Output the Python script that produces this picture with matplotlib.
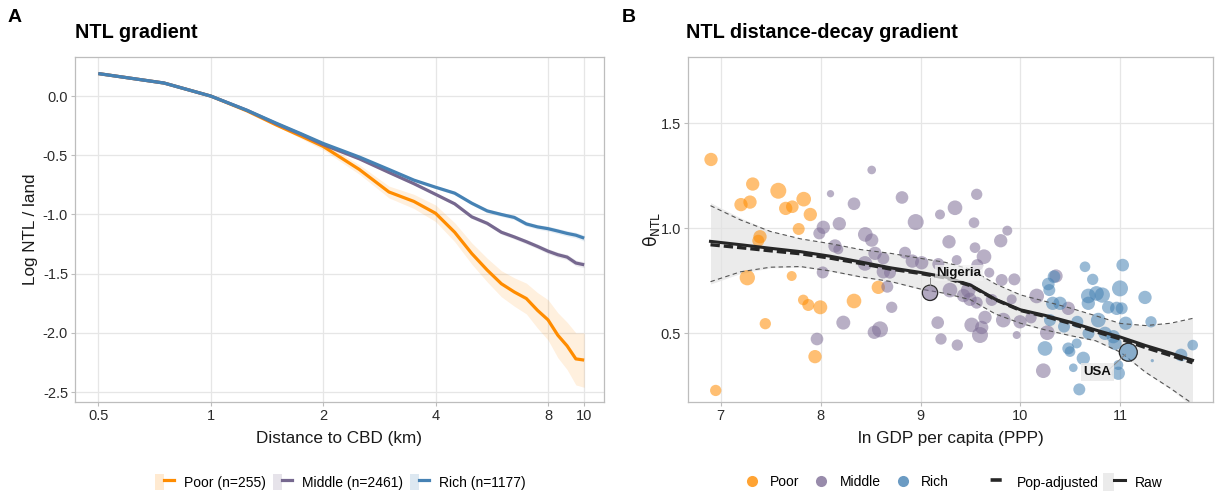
import matplotlib
matplotlib.use('Agg')
import matplotlib.pyplot as plt
from matplotlib.lines import Line2D
from matplotlib.patches import Patch
from matplotlib.legend_handler import HandlerTuple
import numpy as np

plt.rcParams['font.family'] = ['Liberation Sans', 'DejaVu Sans']
plt.rcParams['mathtext.fontset'] = 'dejavusans'
plt.rcParams['axes.unicode_minus'] = False

# -------- panel A: NTL gradient by income group --------
dist_km = [0.5, 0.75, 1.0, 1.25, 1.5, 1.75, 2.0, 2.5, 3.0, 3.5, 4.0, 4.5,
           5.0, 5.5, 6.0, 6.5, 7.0, 7.5, 8.0, 8.5, 9.0, 9.5, 10.0]
poor_ntl = [0.19, 0.11, 0.0, -0.125, -0.245, -0.34, -0.425, -0.62, -0.81,
            -0.89, -0.99, -1.15, -1.33, -1.47, -1.585, -1.655, -1.71, -1.81,
            -1.89, -2.02, -2.11, -2.22, -2.23]
poor_se = [0.0, 0.0, 0.0, 0.005, 0.01, 0.02, 0.03, 0.04, 0.05, 0.06, 0.07,
           0.08, 0.09, 0.10, 0.11, 0.12, 0.13, 0.15, 0.17, 0.19, 0.2, 0.22, 0.23]
middle_ntl = [0.19, 0.11, 0.0, -0.12, -0.235, -0.325, -0.41, -0.53, -0.645,
              -0.74, -0.83, -0.91, -1.02, -1.075, -1.15, -1.19, -1.23, -1.27,
              -1.31, -1.34, -1.36, -1.41, -1.425]
middle_se = [0.0, 0.0, 0.0, 0.0, 0.005, 0.005, 0.01, 0.01, 0.01, 0.012, 0.012,
             0.014, 0.015, 0.016, 0.017, 0.018, 0.019, 0.02, 0.021, 0.022,
             0.023, 0.024, 0.025]
rich_ntl = [0.19, 0.11, 0.0, -0.12, -0.23, -0.32, -0.40, -0.515, -0.62,
            -0.71, -0.77, -0.82, -0.905, -0.97, -1.0, -1.025, -1.08, -1.105,
            -1.12, -1.14, -1.16, -1.175, -1.20]
rich_se = [0.0, 0.0, 0.0, 0.0, 0.005, 0.005, 0.01, 0.01, 0.01, 0.012, 0.012,
           0.014, 0.015, 0.016, 0.017, 0.018, 0.019, 0.02, 0.021, 0.022,
           0.023, 0.024, 0.025]
group_labels = ['Poor (n=255)', 'Middle (n=2461)', 'Rich (n=1177)']

# -------- panel B: city-level decay gradients --------
poor_gdp = [6.905, 7.322, 7.205, 7.295, 7.578, 7.652, 7.718, 7.832, 7.898,
            7.782, 7.395, 7.378, 7.268, 7.712, 7.828, 7.878, 7.998, 7.448,
            7.945, 6.952, 8.578, 8.335]
poor_theta = [1.328, 1.211, 1.113, 1.125, 1.179, 1.095, 1.103, 1.139, 1.066,
              0.997, 0.960, 0.941, 0.765, 0.773, 0.659, 0.635, 0.624, 0.546,
              0.389, 0.228, 0.719, 0.654]
poor_pop = [10, 10, 10, 10, 14.4, 10, 9, 12.1, 10, 8.1, 10, 8.1, 13.2, 5.6,
            6.4, 8.1, 11, 7.2, 10, 7.2, 10, 12.1]

middle_gdp = [8.10, 8.028, 7.988, 8.022, 7.965, 8.145, 8.512, 8.335, 8.815,
              8.952, 9.195, 9.345, 8.188, 8.448, 8.512, 9.285, 8.178, 8.545,
              8.445, 8.628, 8.845, 8.918, 9.012, 8.695, 8.628, 8.668, 8.712,
              8.228, 8.595, 8.538, 9.178, 9.362, 9.295, 9.172, 9.205, 9.368,
              9.43, 9.562, 9.535, 9.868, 9.802, 9.545, 9.635, 9.568, 9.688,
              9.812, 9.938, 9.478, 9.495, 9.562, 9.712, 9.912, 9.828, 9.645,
              9.512, 9.595, 9.612, 9.962, 9.995, 10.105, 10.162, 10.268,
              10.228, 10.355, 10.478]
middle_theta = [1.165, 1.005, 0.976, 0.790, 0.473, 0.916, 1.278, 1.117, 1.147,
                1.030, 1.066, 1.098, 1.022, 0.971, 0.944, 0.936, 0.900, 0.881,
                0.833, 0.857, 0.884, 0.844, 0.836, 0.789, 0.793, 0.722, 0.624,
                0.551, 0.519, 0.505, 0.830, 0.849, 0.706, 0.551, 0.473, 0.444,
                0.680, 1.162, 1.027, 0.989, 0.941, 0.908, 0.865, 0.825, 0.789,
                0.754, 0.757, 0.706, 0.662, 0.646, 0.659, 0.662, 0.563, 0.576,
                0.540, 0.492, 0.528, 0.492, 0.555, 0.574, 0.678, 0.503, 0.322,
                0.773, 0.619]
middle_pop = [3.0, 10, 8.1, 8.1, 9, 10, 4.2, 9, 9, 14.4, 5.6, 12.1, 10, 12.1,
              10, 10, 5.6, 10, 12.1, 8.1, 8.1, 10, 10, 8.1, 10, 8.1, 7.2, 11,
              14.4, 10, 8.1, 5.6, 12.1, 9, 7.2, 7.2, 10, 7.2, 6.4, 5.6, 10,
              6.4, 12.1, 8.1, 5.6, 8.1, 8.1, 12.1, 10, 8.1, 8.1, 5.6, 12.1, 10,
              12.1, 14.4, 10, 3.6, 10, 7.2, 12.1, 12.1, 12.1, 10, 10]

rich_gdp = [10.278, 10.288, 10.335, 10.395, 10.322, 10.295, 10.245, 10.478,
            10.495, 10.562, 10.528, 10.628, 10.588, 10.645, 10.722, 10.678,
            10.678, 10.568, 10.435, 11.022, 10.818, 10.995, 10.878, 10.962,
            11.012, 11.245, 10.778, 10.845, 11.052, 11.305, 10.945, 10.928,
            10.978, 10.978, 11.605, 11.722, 11.318, 10.76, 10.68]
rich_theta = [0.735, 0.706, 0.770, 0.643, 0.643, 0.563, 0.428, 0.428, 0.413,
              0.452, 0.336, 0.381, 0.233, 0.817, 0.757, 0.678, 0.643, 0.555,
              0.532, 0.825, 0.682, 0.714, 0.624, 0.619, 0.619, 0.671, 0.563,
              0.500, 0.548, 0.555, 0.452, 0.484, 0.310, 0.349, 0.397, 0.444,
              0.370, 0.690, 0.500]
rich_pop = [9, 8.1, 9, 10, 10, 8.1, 12.1, 8.1, 6.4, 5.6, 4.2, 10, 8.1, 6.4,
            7.2, 12.1, 10, 8.1, 8.1, 9, 13.2, 14.4, 9, 10, 8.1, 10, 12.1, 10,
            10, 7.2, 10, 10, 10, 5.6, 9, 6.4, 0.6, 12.1, 8.1]

# highlighted cities: name, ln GDP, theta, pop
highlight = [('Nigeria', 9.095, 0.693, 13.2), ('USA', 11.078, 0.410, 18.2)]

fit_gdp = [6.9, 7.2, 7.5, 7.8, 8.1, 8.4, 8.7, 9.0, 9.25, 9.5, 9.75, 10.0,
           10.25, 10.5, 10.75, 11.0, 11.25, 11.5, 11.72]
raw_fit = [0.938, 0.922, 0.905, 0.889, 0.867, 0.840, 0.812, 0.790, 0.768,
           0.730, 0.662, 0.612, 0.585, 0.553, 0.516, 0.482, 0.442, 0.406, 0.372]
raw_lo = [0.735, 0.785, 0.812, 0.815, 0.795, 0.767, 0.745, 0.709, 0.688,
          0.658, 0.590, 0.546, 0.514, 0.487, 0.463, 0.408, 0.312, 0.235, 0.15]
raw_hi = [1.122, 1.050, 0.988, 0.952, 0.929, 0.901, 0.883, 0.859, 0.840,
          0.807, 0.737, 0.685, 0.654, 0.622, 0.586, 0.549, 0.539, 0.550, 0.571]
adj_fit = [0.922, 0.908, 0.893, 0.879, 0.858, 0.833, 0.806, 0.785, 0.764,
           0.727, 0.660, 0.609, 0.580, 0.547, 0.508, 0.473, 0.432, 0.395, 0.360]
adj_lo = [0.746, 0.793, 0.815, 0.818, 0.797, 0.769, 0.747, 0.711, 0.690,
          0.660, 0.592, 0.548, 0.516, 0.489, 0.465, 0.410, 0.315, 0.238, 0.165]
adj_hi = [1.108, 1.040, 0.985, 0.950, 0.927, 0.899, 0.881, 0.857, 0.838,
          0.805, 0.735, 0.683, 0.652, 0.620, 0.584, 0.547, 0.537, 0.548, 0.571]

line_colors = ['#ff8c00', '#76688f', '#4682b4']
dot_colors = ['#ff8c00', '#7e6e96', '#4682b4']
grid_c = '#e6e6e6'
frame_c = '#bdbdbd'
text_c = '#1a1a1a'

W, H = 1215, 495
fig = plt.figure(figsize=(W / 100, H / 100), dpi=100)


def px_axes(left, top, right, bottom):
    return fig.add_axes([left / W, 1 - bottom / H, (right - left) / W, (bottom - top) / H])


def style(ax):
    ax.set_axisbelow(True)
    ax.grid(True, color=grid_c, lw=0.9)
    for s in ax.spines.values():
        s.set_color(frame_c)
        s.set_linewidth(0.9)
    ax.tick_params(length=3, width=0.8, color=frame_c, labelsize=10.5,
                   labelcolor='#2b2b2b', pad=2)
    ax.minorticks_off()


# ---- A ----
axA = px_axes(75, 57, 604, 402)
x = np.array(dist_km)
for ntl, se, c in zip([poor_ntl, middle_ntl, rich_ntl], [poor_se, middle_se, rich_se], line_colors):
    ntl = np.array(ntl)
    se = np.array(se)
    axA.fill_between(x, ntl - se, ntl + se, color=c, alpha=0.13, lw=0, zorder=2)
for ntl, c in zip([poor_ntl, middle_ntl, rich_ntl], line_colors):
    axA.plot(x, ntl, color=c, lw=2.3, zorder=3, solid_capstyle='butt')
axA.set_xscale('log', base=2)
axA.set_xlim(0.433, 11.3)
axA.set_ylim(-2.584, 0.33)
xt = [0.5, 1, 2, 4, 8, 10]
axA.set_xticks(xt)
axA.set_xticklabels(['0.5', '1', '2', '4', '8', '10'])
axA.set_yticks([0.0, -0.5, -1.0, -1.5, -2.0, -2.5])
axA.set_yticklabels(['0.0', '-0.5', '-1.0', '-1.5', '-2.0', '-2.5'])
style(axA)
axA.set_xlabel('Distance to CBD (km)', fontsize=12.3, color=text_c)
axA.set_ylabel('Log NTL / land', fontsize=12.3, color=text_c)
axA.xaxis.set_label_coords(0.5, -0.085)
axA.yaxis.set_label_coords(-0.07, 0.5)

# ---- B ----
axB = px_axes(688, 57, 1213, 402)
axB.fill_between(fit_gdp, raw_lo, raw_hi, color='#e3e3e3', alpha=0.7, lw=0, zorder=1)
groups = [(poor_gdp, poor_theta, poor_pop), (middle_gdp, middle_theta, middle_pop),
          (rich_gdp, rich_theta, rich_pop)]
for (g, t, p), c in zip(groups, dot_colors):
    axB.scatter(g, t, s=np.array(p) * 9.2, color=c, alpha=0.55, lw=0, zorder=2)
for (name, g, t, p), c in zip(highlight, [dot_colors[1], dot_colors[2]]):
    axB.scatter([g], [t], s=p * 9.2, facecolor=c, alpha=0.6, lw=0, zorder=5)
    axB.scatter([g], [t], s=p * 9.2, facecolor='none', edgecolor='#2b2b2b', lw=0.9, zorder=5)
axB.plot(fit_gdp, adj_lo, color='#555555', lw=0.8, ls=(0, (4, 3)), zorder=3)
axB.plot(fit_gdp, adj_hi, color='#555555', lw=0.8, ls=(0, (4, 3)), zorder=3)
axB.plot(fit_gdp, adj_fit, color='#262626', lw=2.4, ls=(0, (2.8, 1.2)), zorder=4)
axB.plot(fit_gdp, raw_fit, color='#262626', lw=2.2, zorder=4)

# city labels
axB.plot([9.095, 9.095], [0.73, 0.765], color='#888888', lw=0.7, zorder=5)
axB.text(9.385, 0.787, 'Nigeria', fontsize=9.5, fontweight='bold', color='#111111',
         ha='center', va='center', zorder=6,
         bbox=dict(boxstyle='square,pad=0.15', fc='#f2f2f2', ec='none', alpha=0.7))
axB.plot([10.89, 11.05], [0.33, 0.40], color='#888888', lw=0.7, zorder=5)
axB.text(10.77, 0.316, 'USA', fontsize=9.5, fontweight='bold', color='#111111',
         ha='center', va='center', zorder=6,
         bbox=dict(boxstyle='square,pad=0.2', fc='#e9e9e9', ec='none', alpha=0.85))

axB.set_xlim(6.675, 11.925)
axB.set_ylim(0.173, 1.816)
axB.set_xticks([7, 8, 9, 10, 11])
axB.set_yticks([0.5, 1.0, 1.5])
axB.set_yticklabels(['0.5', '1.0', '1.5'])
style(axB)
axB.set_xlabel('ln GDP per capita (PPP)', fontsize=12.3, color=text_c)
axB.set_ylabel(r'$\mathrm{\theta}_{\mathrm{NTL}}$', fontsize=12.3, color=text_c)
axB.xaxis.set_label_coords(0.5, -0.085)
axB.yaxis.set_label_coords(-0.05, 0.5)

# panel tags and titles
fig.text(8 / W, 1 - 18 / H, 'A', fontsize=14, fontweight='bold', va='center', ha='left')
fig.text(622 / W, 1 - 18 / H, 'B', fontsize=14, fontweight='bold', va='center', ha='left')
fig.text(75 / W, 1 - 33 / H, 'NTL gradient', fontsize=14.3, fontweight='bold', va='center', ha='left')
fig.text(686 / W, 1 - 33 / H, 'NTL distance-decay gradient', fontsize=14.3, fontweight='bold',
         va='center', ha='left')

# legends
handles_a = [(Patch(fc=c, alpha=0.18, ec='none'), Line2D([], [], color=c, lw=2.3))
             for c in line_colors]
fig.legend(handles_a, group_labels, loc='center', bbox_to_anchor=(340 / W, 1 - 482 / H),
           ncol=3, frameon=False, fontsize=10, handlelength=1.4, handleheight=1.4,
           handletextpad=0.7, columnspacing=0.5,
           handler_map={tuple: HandlerTuple(ndivide=None, pad=0)})

handles_pts = [Line2D([], [], ls='none', marker='o', ms=8, mfc=c, mec='none', alpha=0.8)
               for c in dot_colors]
fig.legend(handles_pts, ['Poor', 'Middle', 'Rich'], loc='center',
           bbox_to_anchor=(846 / W, 1 - 482 / H), ncol=3, frameon=False, fontsize=10,
           handlelength=1.2, handletextpad=0.7, columnspacing=1.0)

h_adj = Line2D([], [], color='#262626', lw=2.6, ls=(6.15, (3.08, 4.62)))
h_raw = (Patch(fc='#ebebeb', ec='none'), Line2D([], [], color='#262626', lw=2.2))
fig.legend([h_adj, h_raw], ['Pop-adjusted', 'Raw'], loc='center',
           bbox_to_anchor=(1074 / W, 1 - 482 / H), ncol=2, frameon=False, fontsize=10,
           handlelength=1.6, handleheight=1.6, handletextpad=0.7, columnspacing=0.3,
           handler_map={tuple: HandlerTuple(ndivide=None, pad=0)})

fig.savefig('out.png', dpi=100)
